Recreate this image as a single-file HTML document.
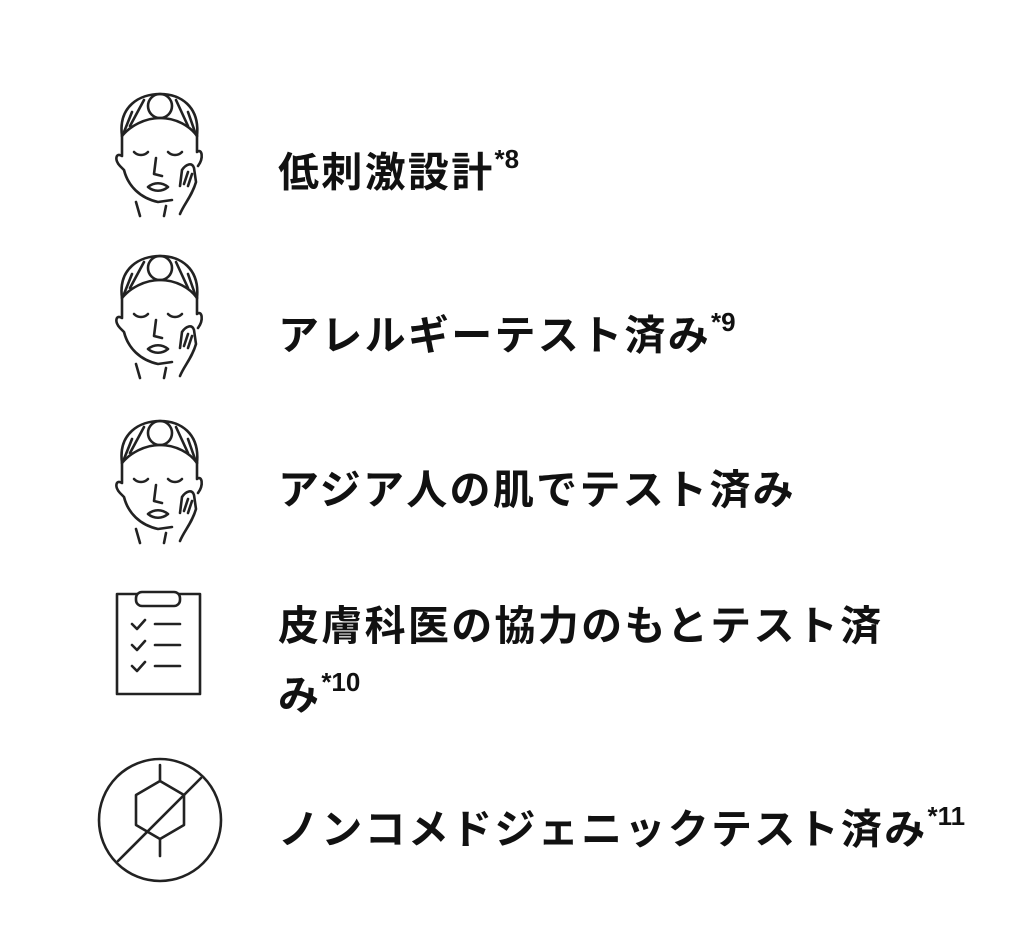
<!DOCTYPE html>
<html><head><meta charset="utf-8"><style>
body{margin:0;width:1024px;height:937px;background:#fff;position:relative;overflow:hidden;font-family:"Liberation Sans","Noto Sans CJK JP",sans-serif;}
.t{position:absolute;left:278px;font-size:41px;font-weight:bold;color:#111;letter-spacing:2.3px;line-height:60px;white-space:nowrap;}
.t sup{font-size:26px;font-family:"Liberation Sans",sans-serif;letter-spacing:0;position:relative;top:-4px;}
svg{position:absolute;}
</style></head><body>
<svg width="1024" height="937" style="left:0;top:0" fill="none" stroke="#222" stroke-width="2.6" stroke-linecap="round" stroke-linejoin="round">
<defs>
<g id="face">
<path d="M22 50 C18 20 40 8 60 8 C80 8 100 20 97 50"/>
<path d="M22 50 C30 40 45 32 60 32 C76 32 90 40 97 50"/>
<circle cx="60" cy="20" r="12"/>
<path d="M30 40 L44 14 M88 40 L76 14 M24 46 L32 26 M95 46 L88 26"/>
<path d="M22 50 L22 70 C16 66 14 74 20 80 L24 84 C28 100 40 112 58 116 L72 114"/>
<path d="M97 50 L97 66 C102 62 104 72 98 80"/>
<path d="M34 66 C38 70 44 70 48 66 M68 66 C72 70 78 70 82 66"/>
<path d="M56 72 L54 88 L62 90"/>
<path d="M48 101 C54 96 62 96 68 101 C62 106 54 106 48 101 Z"/>
<path d="M80 100 L82 84 C86 78 92 76 94 82 L96 96 C92 110 84 118 80 128 M84 98 L88 86 M88 100 L92 88"/>
<path d="M36 116 L40 130 M66 120 L64 130"/>
</g>
</defs>
<use href="#face" transform="translate(100,86)"/>
<use href="#face" transform="translate(100,248)"/>
<use href="#face" transform="translate(100,413)"/>
<rect x="117" y="594" width="83" height="100"/>
<rect x="136" y="592" width="44" height="14" rx="6" fill="#fff"/>
<path d="M132 624 L137 629 L145 620 M132 645 L137 650 L145 641 M132 666 L137 671 L145 662"/>
<path d="M155 624 L180 624 M155 645 L180 645 M155 666 L180 666"/>
<circle cx="160" cy="820" r="61"/>
<path d="M160 765 L160 781 L184 795 L184 825 L160 839 L136 825 L136 795 L160 781 M160 839 L160 856"/>
<path d="M118 861 L201 778"/>
</svg>
<div class="t" style="top:133px">低刺激設計<sup>*8</sup></div>
<div class="t" style="top:296px">アレルギーテスト済み<sup>*9</sup></div>
<div class="t" style="top:460px">アジア人の肌でテスト済み</div>
<div class="t" style="top:596px">皮膚科医の協力のもとテスト済</div>
<div class="t" style="top:656px">み<sup>*10</sup></div>
<div class="t" style="top:790px">ノンコメドジェニックテスト済み<sup>*11</sup></div>
</body></html>
